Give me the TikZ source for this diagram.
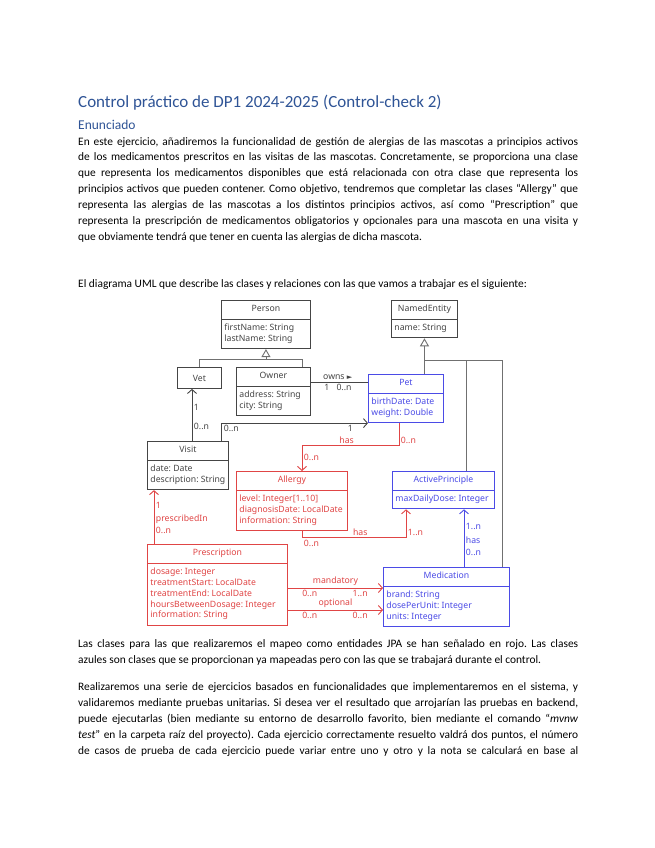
\documentclass[tikz,border=0pt]{standalone}
\usepackage{fontspec}
\setmainfont{Carlito}
\newfontfamily\umlfont{Noto Sans}
\newfontfamily\trifont{DejaVu Sans}
\usetikzlibrary{shapes.multipart,arrows.meta,calc}
\usepackage{xcolor}
\frenchspacing
\definecolor{headblue}{HTML}{2F5496}
\definecolor{clsgray}{HTML}{454545}
\definecolor{linkgray}{HTML}{707070}
\definecolor{jpared}{HTML}{E04545}
\definecolor{givenblue}{HTML}{4B4BE6}
\newcommand{\bodysize}{\fontsize{11.4}{13}\selectfont}
\newcommand{\umlsize}{\umlfont\fontsize{8.7}{10.8}\selectfont}
\newcommand{\attrs}[1]{\begin{tabular}{@{}l@{}}#1\end{tabular}}
\newcommand{\jline}[1]{\makebox[500pt][s]{#1}}

\begin{document}
\begin{tikzpicture}[
    x=1pt, y=-1pt,
    bodyline/.style={anchor=base west, inner sep=0pt, font=\bodysize},
    classbox/.style={rectangle split, rectangle split parts=2, rectangle split part align={center,left}, draw=#1, text=#1, line width=0.9pt, inner xsep=3pt, inner ysep=3.5pt, font=\umlsize, anchor=north west, fill=white},
    namebox/.style={draw=clsgray, text=clsgray, line width=0.9pt, font=\umlsize, anchor=north west, minimum height=21pt, fill=white},
    link/.style={color=#1, line width=0.9pt},
    nav/.style={-{Straight Barb[length=4pt,width=9pt]}},
    gen/.style={-{Triangle[open,length=8pt,width=9pt,fill=white]}},
    lbl/.style={font=\umlsize, inner sep=1.5pt}
]
    \fill[white] (0,0) rectangle (655,848);
    \useasboundingbox (0,0) rectangle (655,848);

    \node[bodyline, text=headblue, font=\fontsize{17}{20}\selectfont] (title) at (78,108) {Control práctico de DP1 2024-2025 (Control-check 2)};
    \node[bodyline, text=headblue, font=\fontsize{13.5}{16}\selectfont] (enun) at (78,129) {Enunciado};

    \node[bodyline] (t1) at (78,145.0) {\jline{En este ejercicio, añadiremos la funcionalidad de gestión de alergias de las mascotas a principios activos}};
    \node[bodyline] (t2) at (78,160.9) {\jline{de los medicamentos prescritos en las visitas de las mascotas. Concretamente, se proporciona una clase}};
    \node[bodyline] (t3) at (78,176.8) {\jline{que representa los medicamentos disponibles que está relacionada con otra clase que representa los}};
    \node[bodyline] (t4) at (78,192.7) {\jline{principios activos que pueden contener. Como objetivo, tendremos que completar las clases “Allergy” que}};
    \node[bodyline] (t5) at (78,208.6) {\jline{representa las alergias de las mascotas a los distintos principios activos, así como “Prescription” que}};
    \node[bodyline] (t6) at (78,224.5) {\jline{representa la prescripción de medicamentos obligatorios y opcionales para una mascota en una visita y}};
    \node[bodyline] (t7) at (78,240.4) {que obviamente tendrá que tener en cuenta las alergias de dicha mascota.};

    \node[bodyline] (intro) at (78,287) {El diagrama UML que describe las clases y relaciones con las que vamos a trabajar es el siguiente:};

    \node[classbox=clsgray, minimum width=89pt] (person) at (221,300) {\strut Person \nodepart{two} \attrs{firstName: String\\lastName: String}};
    \node[classbox=clsgray, minimum width=66pt] (nament) at (391,300) {\strut NamedEntity \nodepart{two} \attrs{name: String}};
    \node[namebox, minimum width=44pt] (vet) at (177,367) {Vet};
    \node[classbox=clsgray, minimum width=74pt] (owner) at (236,367) {\strut Owner \nodepart{two} \attrs{address: String\\city: String}};
    \node[classbox=givenblue, minimum width=75pt] (pet) at (368,374) {\strut Pet \nodepart{two} \attrs{birthDate: Date\\weight: Double}};
    \node[classbox=clsgray, minimum width=81pt] (visit) at (147,441) {\strut Visit \nodepart{two} \attrs{date: Date\\description: String}};
    \node[classbox=jpared, minimum width=111pt] (allergy) at (236,471) {\strut Allergy \nodepart{two} \attrs{level: Integer[1..10]\\diagnosisDate: LocalDate\\information: String}};
    \node[classbox=givenblue, minimum width=102pt] (ap) at (392,471) {\strut ActivePrinciple \nodepart{two} \attrs{maxDailyDose: Integer}};
    \node[classbox=jpared, minimum width=140pt] (prescription) at (147,544) {\strut Prescription \nodepart{two} \attrs{dosage: Integer\\treatmentStart: LocalDate\\treatmentEnd: LocalDate\\hoursBetweenDosage: Integer\\information: String}};
    \node[classbox=givenblue, minimum width=126pt] (medication) at (383,567) {\strut Medication \nodepart{two} \attrs{brand: String\\dosePerUnit: Integer\\units: Integer}};

    \coordinate (vetup) at ([yshift=8pt]vet.north);
    \coordinate (ownup) at ([xshift=-8pt]owner.north east);
    \draw[link=linkgray] (vet.north) |- (ownup |- vetup) -- (ownup);
    \draw[link=linkgray, gen] (vetup -| person.south) -- (person.south);

    \coordinate (nefork) at ([yshift=-22pt]nament.south);
    \coordinate (apup) at ([xshift=-28pt]ap.north east);
    \coordinate (medup) at ([xshift=-7pt]medication.north east);
    \draw[link=linkgray, gen] (nament.south |- pet.north) -- (nament.south);
    \draw[link=linkgray] (medup) |- (nefork);
    \draw[link=linkgray] (apup) -- (apup |- nefork);

    \coordinate (ownsA) at ([yshift=-15pt]owner.north east);
    \draw[link=clsgray] (ownsA) -- (ownsA -| pet.west)
        node[lbl, above, pos=0.47] {owns {\trifont\fontsize{7}{7}\selectfont ►}}
        node[lbl, below, pos=0.28] {1}
        node[lbl, below, pos=0.58] {0..n};

    \coordinate (visA) at ([xshift=45pt]visit.north west);
    \draw[link=clsgray, nav] (visA) -- (visA |- vet.south)
        node[lbl, right, pos=0.28] {0..n}
        node[lbl, right, pos=0.64] {1};

    \coordinate (visB) at ([xshift=-7pt]visit.north east);
    \draw[link=clsgray, nav] (visB) |- (pet.south west)
        node[lbl, anchor=north west, pos=0.5] {0..n}
        node[lbl, below, pos=0.94] {1};

    \coordinate (petlow) at ([xshift=-7pt]pet.south);
    \coordinate (algin) at ([xshift=66pt]allergy.north west);
    \draw[link=jpared, nav] (petlow) -- ++(0,22) node[lbl, right, pos=0.8] {0..n}
        -| (algin) node[lbl, above, pos=0.27] {has} node[lbl, right, pos=0.73] {0..n};

    \coordinate (algout) at ([xshift=66pt]allergy.south west);
    \coordinate (apin) at ([xshift=14pt]ap.south west);
    \draw[link=jpared, nav] (algout) -- ++(0,7) node[lbl, anchor=north west, pos=1] {0..n}
        -| (apin) node[lbl, above, pos=0.28] {has} node[lbl, right, pos=0.6] {1..n};

    \coordinate (presup) at ([xshift=7pt]prescription.north west);
    \draw[link=jpared, nav] (presup) -- (presup |- visit.south)
        node[lbl, right, pos=0.25] {0..n}
        node[lbl, right, pos=0.46] {prescribedIn}
        node[lbl, right, pos=0.71] {1};

    \coordinate (mandA) at ([yshift=-44pt]prescription.north east);
    \coordinate (optA) at ([yshift=-66pt]prescription.north east);
    \draw[link=jpared, nav] (mandA) -- (mandA -| medication.west)
        node[lbl, above, pos=0.5] {mandatory}
        node[lbl, below, pos=0.23] {0..n}
        node[lbl, below, pos=0.76] {1..n};
    \draw[link=jpared, nav] (optA) -- (optA -| medication.west)
        node[lbl, above, pos=0.5] {optional}
        node[lbl, below, pos=0.23] {0..n}
        node[lbl, below, pos=0.76] {0..n};

    \coordinate (medin) at ([xshift=81pt]medication.north west);
    \draw[link=givenblue, nav] (medin) -- (medin |- ap.south)
        node[lbl, right, pos=0.25] {0..n}
        node[lbl, right, pos=0.47] {has}
        node[lbl, right, pos=0.71] {1..n};

    \node[bodyline] (b1) at (78,647) {\jline{Las clases para las que realizaremos el mapeo como entidades JPA se han señalado en rojo. Las clases}};
    \node[bodyline] (b2) at (78,663) {azules son clases que se proporcionan ya mapeadas pero con las que se trabajará durante el control.};
    \node[bodyline] (c1) at (78,690) {\jline{Realizaremos una serie de ejercicios basados en funcionalidades que implementaremos en el sistema, y}};
    \node[bodyline] (c2) at (78,706) {\jline{validaremos mediante pruebas unitarias. Si desea ver el resultado que arrojarían las pruebas en backend,}};
    \node[bodyline] (c3) at (78,722) {\jline{puede ejecutarlas (bien mediante su entorno de desarrollo favorito, bien mediante el comando “\textit{mvnw}}};
    \node[bodyline] (c4) at (78,738) {\jline{\textit{test}” en la carpeta raíz del proyecto). Cada ejercicio correctamente resuelto valdrá dos puntos, el número}};
    \node[bodyline] (c5) at (78,754) {\jline{de casos de prueba de cada ejercicio puede variar entre uno y otro y la nota se calculará en base al}};
\end{tikzpicture}
\end{document}
